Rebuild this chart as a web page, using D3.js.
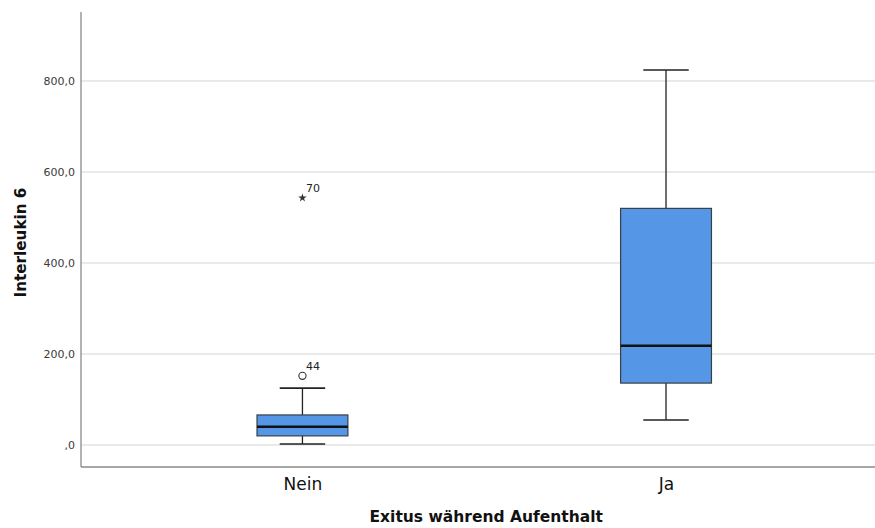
<!DOCTYPE html>
<html>
<head>
<meta charset="utf-8">
<script src="https://cdn.jsdelivr.net/npm/d3@7"></script>
<style>
  html, body { margin: 0; padding: 0; background: #fff; }
  svg { display: block; font-family: "DejaVu Sans", sans-serif; }
  .title { font-weight: bold; }
</style>
</head>
<body>
<svg id="chart" width="875" height="528"></svg>
<script>
// Interleukin 6 by in-hospital death
const categories   = ["Nein", "Ja"];
const whiskerLow   = [2, 55];
const q1           = [20, 136];
const median       = [40, 218];
const q3           = [66, 520];
const whiskerHigh  = [125, 824];
// outliers: value, case number, kind ("circle" = outlier, "star" = extreme)
const outlierGroup = ["Nein", "Nein"];
const outlierValue = [152, 543];
const outlierCase  = ["44", "70"];
const outlierKind  = ["circle", "star"];
const yTicks       = [0, 200, 400, 600, 800];

const width = 875, height = 528;
const margin = { top: 12, right: 0, bottom: 61, left: 81 };
const plotW = width - margin.left - margin.right;
const plotH = height - margin.top - margin.bottom;

const svg = d3.select("#chart");
const g = svg.append("g").attr("transform", `translate(${margin.left},${margin.top})`);

const y = d3.scaleLinear().domain([-48.4, 951.6]).range([plotH, 0]);
const x = d3.scalePoint().domain(categories).range([plotW * 0.2789, plotW * 0.7368]);
const step = x(categories[1]) - x(categories[0]);
const boxW = step * 0.25;
const capW = boxW * 0.5;

const fmt = v => v === 0 ? ",0" : d3.format(".1f")(v).replace(".", ",");

// horizontal gridlines
g.append("g").selectAll("line").data(yTicks).join("line")
  .attr("x1", 0).attr("x2", plotW)
  .attr("y1", d => y(d)).attr("y2", d => y(d))
  .attr("stroke", "#d4d4d4").attr("stroke-width", 1);

// y axis
const yAxis = g.append("g")
  .call(d3.axisLeft(y).tickValues(yTicks).tickFormat(fmt).tickSize(0).tickPadding(6));
yAxis.select(".domain").remove();
yAxis.selectAll("text").attr("font-size", 11).attr("fill", "#3a3a3a")
  .style("font-family", "'DejaVu Sans', sans-serif");

// x axis
const xAxis = g.append("g").attr("transform", `translate(0,${plotH})`)
  .call(d3.axisBottom(x).tickSize(0).tickPadding(11));
xAxis.select(".domain").remove();
xAxis.selectAll("text").attr("font-size", 17).attr("fill", "#111")
  .style("font-family", "'DejaVu Sans', sans-serif");

// frame lines (left and bottom)
g.append("line").attr("x1", 0).attr("x2", 0).attr("y1", 0).attr("y2", plotH)
  .attr("stroke", "#8a8a8a").attr("stroke-width", 1.3);
g.append("line").attr("x1", 0).attr("x2", plotW).attr("y1", plotH).attr("y2", plotH)
  .attr("stroke", "#8a8a8a").attr("stroke-width", 1.3);

// boxes
const boxes = categories.map((c, i) => ({
  c, lo: whiskerLow[i], q1: q1[i], med: median[i], q3: q3[i], hi: whiskerHigh[i]
}));
const bg = g.append("g").selectAll("g").data(boxes).join("g")
  .attr("transform", d => `translate(${x(d.c)},0)`);

bg.append("line").attr("x1", 0).attr("x2", 0)
  .attr("y1", d => y(d.q3)).attr("y2", d => y(d.hi))
  .attr("stroke", "#222").attr("stroke-width", 1.3);
bg.append("line").attr("x1", 0).attr("x2", 0)
  .attr("y1", d => y(d.q1)).attr("y2", d => y(d.lo))
  .attr("stroke", "#222").attr("stroke-width", 1.3);
bg.append("line").attr("x1", -capW / 2).attr("x2", capW / 2)
  .attr("y1", d => y(d.hi)).attr("y2", d => y(d.hi))
  .attr("stroke", "#222").attr("stroke-width", 1.6);
bg.append("line").attr("x1", -capW / 2).attr("x2", capW / 2)
  .attr("y1", d => y(d.lo)).attr("y2", d => y(d.lo))
  .attr("stroke", "#222").attr("stroke-width", 1.6);
bg.append("rect")
  .attr("x", -boxW / 2).attr("width", boxW)
  .attr("y", d => y(d.q3)).attr("height", d => y(d.q1) - y(d.q3))
  .attr("fill", "#5596e6").attr("stroke", "#3a3f46").attr("stroke-width", 1.2);
bg.append("line").attr("x1", -boxW / 2).attr("x2", boxW / 2)
  .attr("y1", d => y(d.med)).attr("y2", d => y(d.med))
  .attr("stroke", "#111").attr("stroke-width", 2.4);

// outliers
const outs = outlierValue.map((v, i) => ({ c: outlierGroup[i], v, label: outlierCase[i], kind: outlierKind[i] }));
const og = g.append("g").selectAll("g").data(outs).join("g")
  .attr("transform", d => `translate(${x(d.c)},${y(d.v)})`);
og.filter(d => d.kind === "circle").append("circle")
  .attr("r", 3.6).attr("fill", "#fff").attr("stroke", "#333").attr("stroke-width", 1.1);
og.filter(d => d.kind === "star").append("path")
  .attr("d", d3.symbol().type(d3.symbolStar).size(22))
  .attr("fill", "#333");
og.append("text").text(d => d.label)
  .attr("x", 3.5).attr("y", -6)
  .attr("font-size", 11).attr("fill", "#222");

// axis titles
svg.append("text").attr("class", "title")
  .attr("x", margin.left + x(categories[0]) + step / 2 + 2).attr("y", 522)
  .attr("text-anchor", "middle").attr("font-size", 15.5).attr("fill", "#111")
  .text("Exitus während Aufenthalt");
svg.append("text").attr("class", "title")
  .attr("transform", `translate(26,${margin.top + plotH / 2 + 3}) rotate(-90)`)
  .attr("text-anchor", "middle").attr("font-size", 15.2).attr("fill", "#111")
  .text("Interleukin 6");
</script>
</body>
</html>
